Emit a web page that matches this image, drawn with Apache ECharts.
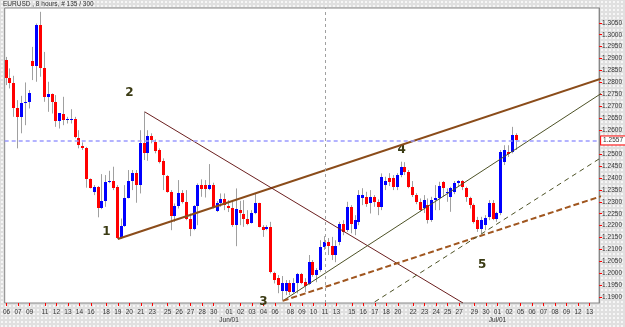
<!DOCTYPE html>
<html><head><meta charset="utf-8">
<script src="https://cdn.jsdelivr.net/npm/echarts@6/dist/echarts.min.js"></script>
<style>
html,body{margin:0;padding:0;}
body{width:625px;height:327px;background-color:#e0e0e0;background-image:radial-gradient(circle,#f7f7f7 0.7px,transparent 0.9px);background-size:4px 4px;}
#c{width:625px;height:327px;}
</style></head><body><div id="c"></div>
<script>
const chartTitle = 'EURUSD , 8 hours, # 135 / 300';
// one entry per day; '' = label not shown
const dayTicks = ['06','07','09','','11','12','13','14','16','','18','19','20','21','23','','25','26','27','28','30','','01\nJun/01','02','03','04','06','','08','09','10','11','13','','15','16','17','18','20','','22','23','24','25','27','','29','30','01\nJul/01','02','05','06','07','08','09','12','13'];
const barsPerDay = [3,3,1,3,3,3,3,3,1,3,3,3,3,3,1,3,3,3,3,3,1,3,3,3,3,3,1,3,3,3,3,3,1,3,3,3,3,3,1,3,3,3,3,3,1,3,3,3,3,3,3,3,3,3,3,3,3];
const opens = [1.2894,1.2819,1.2796,1.2691,1.2656,1.2715,1.2719,1.2891,1.2869,1.3040,1.2861,1.2740,1.2750,1.2719,1.2638,1.2667,1.2642,1.2642,1.2649,1.2568,1.2535,1.2526,1.2395,1.2342,1.2363,1.2272,1.2303,1.2384,1.2387,1.2363,1.2147,1.2199,1.2318,1.2388,1.2419,1.2370,1.2545,1.2505,1.2575,1.2551,1.2517,1.2472,1.2408,1.2342,1.2240,1.2282,1.2335,1.2300,1.2230,1.2188,1.2282,1.2370,1.2370,1.2352,1.2370,1.2262,1.2293,1.2310,1.2282,1.2272,1.2202,1.2265,1.2248,1.2230,1.2212,1.2254,1.2293,1.2195,1.2184,1.2195,1.2000,1.1980,1.1927,1.1927,1.1958,1.1923,1.1958,1.1997,1.1963,1.1955,1.2046,1.1993,1.2014,1.2111,1.2132,1.2114,1.2077,1.2132,1.2209,1.2181,1.2279,1.2188,1.2216,1.2314,1.2321,1.2293,1.2321,1.2300,1.2279,1.2370,1.2398,1.2398,1.2363,1.2412,1.2447,1.2424,1.2363,1.2328,1.2300,1.2272,1.2286,1.2223,1.2307,1.2318,1.2384,1.2335,1.2321,1.2342,1.2377,1.2388,1.2356,1.2314,1.2286,1.2223,1.2188,1.2202,1.2237,1.2293,1.2227,1.2251,1.2468,1.2509,1.2509,1.2579];
const closes = [1.2819,1.2796,1.2691,1.2656,1.2715,1.2719,1.2754,1.2869,1.3040,1.2861,1.2740,1.2750,1.2719,1.2638,1.2670,1.2642,1.2646,1.2649,1.2572,1.2537,1.2526,1.2395,1.2359,1.2363,1.2272,1.2303,1.2384,1.2388,1.2356,1.2147,1.2199,1.2318,1.2388,1.2419,1.2370,1.2545,1.2505,1.2575,1.2558,1.2514,1.2468,1.2412,1.2342,1.2240,1.2282,1.2335,1.2300,1.2230,1.2188,1.2282,1.2370,1.2352,1.2352,1.2370,1.2279,1.2293,1.2310,1.2286,1.2272,1.2202,1.2268,1.2251,1.2230,1.2209,1.2254,1.2293,1.2195,1.2181,1.2195,1.2007,1.1972,1.1951,1.1961,1.1961,1.1923,1.1958,1.1997,1.1961,1.1947,1.2049,1.1993,1.2014,1.2111,1.2132,1.2114,1.2077,1.2114,1.2209,1.2174,1.2279,1.2209,1.2223,1.2328,1.2328,1.2290,1.2321,1.2300,1.2279,1.2405,1.2388,1.2384,1.2363,1.2412,1.2447,1.2424,1.2363,1.2328,1.2300,1.2265,1.2307,1.2223,1.2307,1.2315,1.2366,1.2356,1.2342,1.2356,1.2380,1.2388,1.2363,1.2321,1.2286,1.2216,1.2188,1.2223,1.2233,1.2293,1.2230,1.2251,1.2509,1.2517,1.2500,1.2579,1.2557];
const lows = [1.2789,1.2775,1.2656,1.2524,1.2587,1.2621,1.2691,1.2810,1.2803,1.2824,1.2719,1.2677,1.2670,1.2614,1.2607,1.2621,1.2628,1.2628,1.2566,1.2524,1.2517,1.2359,1.2356,1.2328,1.2235,1.2269,1.2279,1.2378,1.2349,1.2144,1.2144,1.2195,1.2314,1.2349,1.2296,1.2335,1.2475,1.2472,1.2545,1.2503,1.2461,1.2349,1.2338,1.2181,1.2216,1.2272,1.2293,1.2223,1.2156,1.2181,1.2202,1.2321,1.2318,1.2349,1.2272,1.2257,1.2279,1.2265,1.2257,1.2195,1.2114,1.2202,1.2195,1.2202,1.2209,1.2248,1.2193,1.2153,1.2181,1.2000,1.1958,1.1917,1.1888,1.1909,1.1909,1.1917,1.1916,1.1955,1.1922,1.1951,1.1986,1.1963,1.2007,1.2098,1.2077,1.2056,1.2047,1.2118,1.2160,1.2174,1.2168,1.2160,1.2202,1.2286,1.2279,1.2251,1.2279,1.2244,1.2265,1.2349,1.2366,1.2349,1.2349,1.2403,1.2412,1.2357,1.2320,1.2290,1.2258,1.2253,1.2209,1.2216,1.2265,1.2265,1.2321,1.2300,1.2258,1.2332,1.2366,1.2349,1.2300,1.2272,1.2209,1.2174,1.2168,1.2181,1.2223,1.2223,1.2216,1.2244,1.2454,1.2488,1.2503,1.2517];
const highs = [1.2907,1.2859,1.2828,1.2726,1.2744,1.2800,1.2768,1.2949,1.3047,1.3096,1.2928,1.2803,1.2754,1.2747,1.2672,1.2740,1.2656,1.2688,1.2656,1.2600,1.2549,1.2530,1.2398,1.2370,1.2366,1.2416,1.2412,1.2430,1.2447,1.2370,1.2230,1.2370,1.2433,1.2433,1.2433,1.2600,1.2677,1.2600,1.2587,1.2561,1.2524,1.2482,1.2412,1.2349,1.2293,1.2391,1.2349,1.2349,1.2251,1.2286,1.2377,1.2394,1.2391,1.2458,1.2380,1.2303,1.2335,1.2335,1.2307,1.2300,1.2356,1.2304,1.2307,1.2265,1.2265,1.2335,1.2296,1.2202,1.2202,1.2216,1.2007,1.1993,1.1989,1.1972,1.1972,1.1980,1.2002,1.2002,1.1980,1.2077,1.2056,1.2022,1.2139,1.2156,1.2148,1.2153,1.2139,1.2216,1.2223,1.2300,1.2286,1.2244,1.2349,1.2357,1.2342,1.2349,1.2328,1.2310,1.2419,1.2405,1.2420,1.2412,1.2420,1.2468,1.2466,1.2433,1.2387,1.2336,1.2314,1.2328,1.2314,1.2321,1.2370,1.2384,1.2387,1.2356,1.2363,1.2387,1.2391,1.2391,1.2363,1.2321,1.2293,1.2237,1.2237,1.2244,1.2307,1.2307,1.2258,1.2517,1.2537,1.2537,1.2614,1.2587];
const yTicks = [1.19,1.195,1.20,1.205,1.21,1.215,1.22,1.225,1.23,1.235,1.24,1.245,1.25,1.26,1.265,1.27,1.275,1.28,1.285,1.29,1.295,1.30,1.305];
const yRange = [1.1876, 1.3112];
const currentPrice = 1.2557;
const separatorBar = 83;
// trend line anchors: [bar index, price]
const trendMain = [[29,1.2144],[68.6,1.2356]];
const trendDown = [[36,1.2677],[119.2,1.1876]];
const trendUp = [[72,1.1885],[110,1.2285]];
const trendDashBrown = [[72,1.1885],[148.8,1.2293]];
const trendDashDark = [[117.7,1.2105],[148.8,1.2426]];
const waveNames = ['1','2','3','4','5'];
const waveBars = [25.6,32.4,66.5,102.7,124];
const wavePrices = [1.2173,1.2756,1.1880,1.2517,1.2035];

// build categories
const cats = [], tickText = [];
dayTicks.forEach((d, k) => {
  for (let b = 0; b < barsPerDay[k]; b++) { cats.push('b' + cats.length); tickText.push(b === 0 ? d : ''); }
});
const lastIdx = cats.length - 0.5;
function extendLine(pts, fromX, toX) {
  const [[x1,y1],[x2,y2]] = pts; const s = (y2-y1)/(x2-x1);
  return [[fromX, y1 + s*(fromX-x1)], [toX, y1 + s*(toX-x1)]];
}
const FONT = 'Liberation Sans';
const showTick = (idx) => tickText[idx] !== '';

const chart = echarts.init(document.getElementById('c'), null, {renderer:'canvas'});
chart.setOption({
  animation: false,
  backgroundColor: 'transparent',
  title: { text: chartTitle, left: 3, top: 1, padding: 0, textStyle: {fontSize: 6.5, fontWeight: 'normal', color: '#333', fontFamily: FONT} },
  grid: { left: 2, right: 23, top: 8, bottom: 24, show: true, backgroundColor: '#fff', borderColor: '#888', borderWidth: 1 },
  xAxis: {
    type: 'category', data: cats, boundaryGap: true,
    axisLine: {show: false},
    axisTick: {show: true, interval: showTick, alignWithLabel: true, length: 3, lineStyle: {color: '#ff0000'}},
    axisLabel: {interval: showTick, formatter: (v, i) => tickText[i], fontSize: 6.5, color: '#333', margin: 5, lineHeight: 8, fontFamily: FONT},
    splitLine: {show: false}
  },
  yAxis: {
    type: 'value', position: 'right', min: yRange[0], max: yRange[1], scale: true,
    axisLine: {show: true, lineStyle: {color: '#888'}},
    axisTick: {show: true, customValues: yTicks, length: 3, lineStyle: {color: '#ff0000'}},
    axisLabel: {customValues: yTicks, formatter: v => v.toFixed(4), fontSize: 6.5, color: '#333', margin: 3, fontFamily: FONT},
    splitLine: {show: false}
  },
  series: [
    {
      type: 'custom', name: 'candles', clip: true,
      data: opens.map((o, i) => [i, o, closes[i], lows[i], highs[i]]),
      encode: {x: 0, y: [1,2,3,4]},
      renderItem: (params, api) => {
        const i = api.value(0), o = api.value(1), c = api.value(2), l = api.value(3), h = api.value(4);
        const po = api.coord([i, o]), pc = api.coord([i, c]), pl = api.coord([i, l]), ph = api.coord([i, h]);
        const x = Math.round(po[0]) - 1;
        const t = Math.round(Math.min(po[1], pc[1])), b = Math.round(Math.max(po[1], pc[1]));
        return {type: 'group', children: [
          {type: 'line', shape: {x1: x + 0.5, y1: ph[1], x2: x + 0.5, y2: pl[1]}, style: {stroke: '#a0a0a0', lineWidth: 1}},
          {type: 'rect', shape: {x: x - 1, y: t, width: 3, height: Math.max(1, b - t)}, style: {fill: c >= o ? '#0000ff' : '#ff0000'}}
        ]};
      }
    },
    {
      type: 'line', name: 'main', data: extendLine(trendMain, trendMain[0][0], lastIdx), symbol: 'none', clip: true,
      lineStyle: {color: '#8b4c1a', width: 2},
      markLine: {
        silent: true, symbol: 'none', animation: false, precision: 6,
        data: [
          {yAxis: currentPrice, lineStyle: {color: '#9a9aff', type: [4,3], width: 1.5},
           label: {show: true, position: 'end', distance: 2, formatter: currentPrice.toFixed(4), fontSize: 6.5, color: '#333', fontFamily: FONT, backgroundColor: '#fff', borderColor: '#ff0000', borderWidth: 1, padding: [1,2,0,2]}},
          {xAxis: separatorBar, lineStyle: {color: '#a0a0a0', type: [3,3], width: 1}, label: {show: false}}
        ]
      }
    },
    {type: 'line', name: 'down', data: trendDown, symbol: 'none', clip: true, lineStyle: {color: '#6b1f1f', width: 1}},
    {type: 'line', name: 'up', data: extendLine(trendUp, trendUp[0][0], lastIdx), symbol: 'none', clip: true, lineStyle: {color: '#4d5226', width: 1}},
    {type: 'line', name: 'dashBrown', data: extendLine(trendDashBrown, trendDashBrown[0][0], lastIdx), symbol: 'none', clip: true, lineStyle: {color: '#a0561f', width: 2, type: [6,3]}},
    {type: 'line', name: 'dashDark', data: extendLine(trendDashDark, 94, lastIdx), symbol: 'none', clip: true, lineStyle: {color: '#4d5226', width: 1, type: [5,4]}},
    {
      type: 'custom', name: 'waves', clip: false,
      data: waveNames.map((n, k) => [waveBars[k], wavePrices[k], n]),
      encode: {x: 0, y: 1},
      renderItem: (params, api) => {
        const p = api.coord([api.value(0), api.value(1)]);
        return {type: 'text', x: p[0], y: p[1], style: {text: waveNames[params.dataIndex], fontSize: 12, fontWeight: 'bold', fill: '#3b3b14', align: 'center', verticalAlign: 'middle', fontFamily: 'DejaVu Sans'}};
      }
    }
  ]
});
</script></body></html>
